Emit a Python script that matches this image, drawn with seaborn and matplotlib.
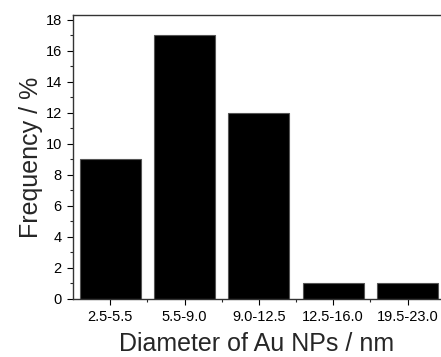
import matplotlib
matplotlib.use('Agg')
import matplotlib.pyplot as plt
import numpy as np
import pandas as pd
import seaborn as sns
from matplotlib.ticker import MultipleLocator, FixedLocator

sizes = ['2.5-5.5', '5.5-9.0', '9.0-12.5', '12.5-16.0', '19.5-23.0']
freq = [9, 17, 12, 1, 1]

df = pd.DataFrame({'size': sizes, 'freq': freq})

sns.set_style('ticks')
plt.rcParams['font.family'] = ['Liberation Sans', 'DejaVu Sans']

fig = plt.figure(figsize=(4.41, 3.57), dpi=100)
ax = fig.add_axes([0.1655, 0.1625, 0.8345, 0.7955])

sns.barplot(data=df, x='size', y='freq', color='black', width=0.82,
            edgecolor='#555555', linewidth=0.8, saturation=1, ax=ax)

ax.set_xlim(-0.5, 4.45)
ax.set_ylim(0, 18.3)
ax.yaxis.set_major_locator(MultipleLocator(2))
ax.yaxis.set_minor_locator(MultipleLocator(1))
ax.xaxis.set_minor_locator(FixedLocator(np.arange(len(sizes)) + 0.5))
ax.tick_params(axis='both', which='major', direction='out', length=4, width=0.8,
               labelsize=10.5, colors='black', pad=4)
ax.tick_params(axis='both', which='minor', direction='out', length=2.5, width=0.8)
for s in ['left', 'bottom', 'top']:
    ax.spines[s].set_color('#333333')
    ax.spines[s].set_linewidth(1.0)
ax.spines['right'].set_visible(False)

ax.set_xlabel('Diameter of Au NPs / nm', fontsize=18, labelpad=6)
ax.set_ylabel('Frequency / %', fontsize=18, labelpad=2)

fig.savefig('out.png', dpi=100)
